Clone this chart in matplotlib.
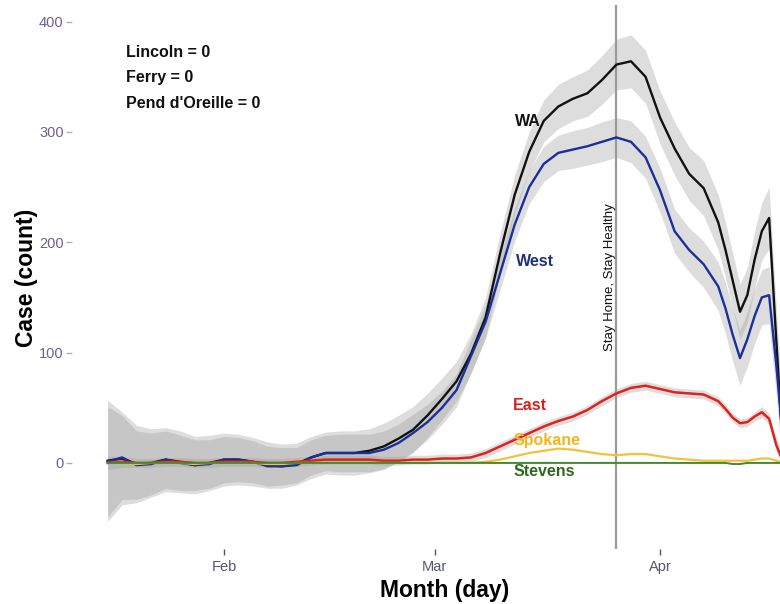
import matplotlib
matplotlib.use("Agg")
import matplotlib.pyplot as plt

# Day of year 2020 (Jan 1 = 0, Feb 1 = 31, Mar 1 = 60, Apr 1 = 91)
day = [15, 17, 19, 21, 23, 25, 27, 29, 31, 33, 35, 37, 39, 41, 43, 45, 47, 49,
       51, 53, 55, 57, 59, 61, 63, 65, 67, 69, 71, 73, 75, 77, 79, 81, 83, 85,
       87, 89, 91, 93, 95, 97, 99, 100, 101, 102, 103, 104, 105, 106, 107, 108]

# Smoothed daily case counts
wa = [2, 4, -1, 0, 3, 1, -2, 0, 3, 3, 1, -2, -3, -1, 5, 9, 9, 9,
      11, 15, 22, 30, 43, 58, 74, 99, 132, 190, 243, 282, 310, 323, 330, 335, 347, 361,
      364, 350, 313, 285, 262, 249, 218, 193, 165, 137, 152, 184, 210, 222, 110, 0]
west = [1, 5, -2, -1, 3, 0, -2, -1, 3, 3, 1, -3, -3, -2, 5, 9, 9, 9,
        9, 12, 18, 27, 37, 50, 66, 97, 128, 172, 216, 250, 271, 281, 284, 287, 291, 295,
        291, 277, 247, 210, 193, 180, 160, 140, 116, 95, 112, 133, 150, 152, 88, 15]
east = [0, 1, 0, 0, 1, 1, 0, 0, 1, 1, 1, 0, 0, 1, 2, 3, 3, 3,
        3, 2, 2, 3, 3, 4, 4, 5, 9, 15, 21, 27, 33, 38, 42, 48, 56, 63,
        68, 70, 67, 64, 63, 62, 56, 49, 41, 36, 37, 42, 46, 40, 16, 0]
spokane = [0, 0, -1, 0, 0, 0, -1, 0, 0, 0, 0, -1, -1, 0, 0, 0, 0, 0,
           0, 0, 0, 0, 0, 0, 0, 0, 1, 3, 6, 9, 11, 13, 12, 10, 8, 7,
           8, 8, 6, 4, 3, 2, 2, 2, 2, 2, 2, 3, 4, 4, 2, 0]
stevens = [0, 0, 0, 0, 0, 0, 0, 0, 0, 0, 0, 0, 0, 0, 0, 0, 0, 0,
           0, 0, 0, 0, 0, 0, 0, 0, 0, 0, 0, 0, 0, 0, 0, 0, 0, 0,
           0, 0, 0, 0, 0, 0, 0, 0, -1, -1, 0, 0, 0, 0, 0, 0]

# Half-widths of the confidence bands
wa_se = [55, 42, 35, 31, 29, 28, 26, 25, 24, 23, 22, 21, 20, 19, 19, 19, 20, 20,
         20, 21, 21, 21, 20, 19, 18, 18, 18, 18, 18, 18, 19, 20, 20, 21, 22, 23,
         24, 24, 24, 24, 24, 25, 25, 25, 25, 25, 25, 26, 26, 28, 30, 32]
west_se = [50, 38, 31, 28, 26, 25, 23, 22, 21, 20, 19, 18, 17, 16, 16, 16, 17, 17,
           17, 17, 17, 17, 16, 15, 15, 15, 15, 15, 15, 15, 16, 16, 17, 17, 18, 18,
           19, 19, 20, 20, 20, 21, 22, 23, 24, 25, 25, 25, 25, 26, 28, 30]
east_se = [6, 5, 4, 4, 4, 4, 4, 4, 4, 4, 4, 4, 4, 4, 4, 4, 4, 4,
           4, 4, 4, 4, 4, 4, 4, 4, 4, 4, 4, 4, 4, 4, 4, 4, 4, 4,
           4, 4, 4, 4, 4, 4, 4, 4, 4, 4, 4, 4, 5, 5, 6, 6]

order_day = 85
month_ticks = [31, 60, 91]
month_labels = ["Feb", "Mar", "Apr"]
y_ticks = [0, 100, 200, 300, 400]
zero_counties = ["Lincoln = 0", "Ferry = 0", "Pend d'Oreille = 0"]

plt.rcParams["font.family"] = ["Liberation Sans", "DejaVu Sans"]

fig = plt.figure(figsize=(7.8, 6.04), dpi=100)
ax = fig.add_axes([72 / 780, 55 / 604, 1 - 72 / 780, 544 / 604])

band_kw = dict(color="#999999", alpha=0.33, lw=0, zorder=1)
for y, se in ((wa, wa_se), (west, west_se), (east, east_se)):
    ax.fill_between(day, [v - s for v, s in zip(y, se)],
                    [v + s for v, s in zip(y, se)], **band_kw)

ax.axvline(order_day, color="#9a9a9a", lw=1.6, zorder=2)

ax.plot(day, wa, color="#111111", lw=1.7, zorder=3)
ax.plot(day, west, color="#1b2f99", lw=1.7, zorder=4)
ax.plot(day, east, color="#e0221c", lw=1.8, zorder=5)
ax.plot(day, spokane, color="#f3c13a", lw=1.6, zorder=6)
ax.plot(day, stevens, color="#3f8a2a", lw=1.4, zorder=7)

lab_kw = dict(fontsize=11.5, fontweight="bold", va="center", zorder=8)
ax.text(74.6, 309, "WA", color="#111111", ha="right", **lab_kw)
ax.text(71.2, 183, "West", color="#1b2f80", ha="left", **lab_kw)
ax.text(70.8, 52, "East", color="#d8201a", ha="left", **lab_kw)
ax.text(70.8, 20, "Spokane", color="#f2b51e", ha="left", **lab_kw)
ax.text(70.9, -8, "Stevens", color="#2e6a1e", ha="left", **lab_kw)

for txt, yv in zip(zero_counties, [372, 349, 326]):
    ax.text(17.5, yv, txt, color="#111111", ha="left", **lab_kw)

ax.text(order_day - 0.95, 168, "Stay Home, Stay Healthy", rotation=90,
        fontsize=9.5, ha="center", va="center", color="#111111", zorder=8)

ax.set_xlim(10.1, 107.5)
ax.set_ylim(-78, 415)
ax.set_xticks(month_ticks)
ax.set_xticklabels(month_labels)
ax.set_yticks(y_ticks)
ax.set_yticklabels([str(v) for v in y_ticks])
for s in ax.spines.values():
    s.set_visible(False)
ax.tick_params(axis="y", length=4, width=1, color="#b0b0b0", pad=2,
               labelsize=10.5, labelcolor="#6e5f92")
ax.tick_params(axis="x", length=4, width=1, color="#555555", pad=4,
               labelsize=10.5, labelcolor="#55566e")

fig.text(445 / 780, 1 - 590 / 604, "Month (day)", fontsize=16.5,
         fontweight="bold", ha="center", va="center")
fig.text(27 / 780, 1 - 278 / 604, "Case (count)", fontsize=16.5,
         fontweight="bold", ha="center", va="center", rotation=90)

fig.savefig("out.png", dpi=100)
